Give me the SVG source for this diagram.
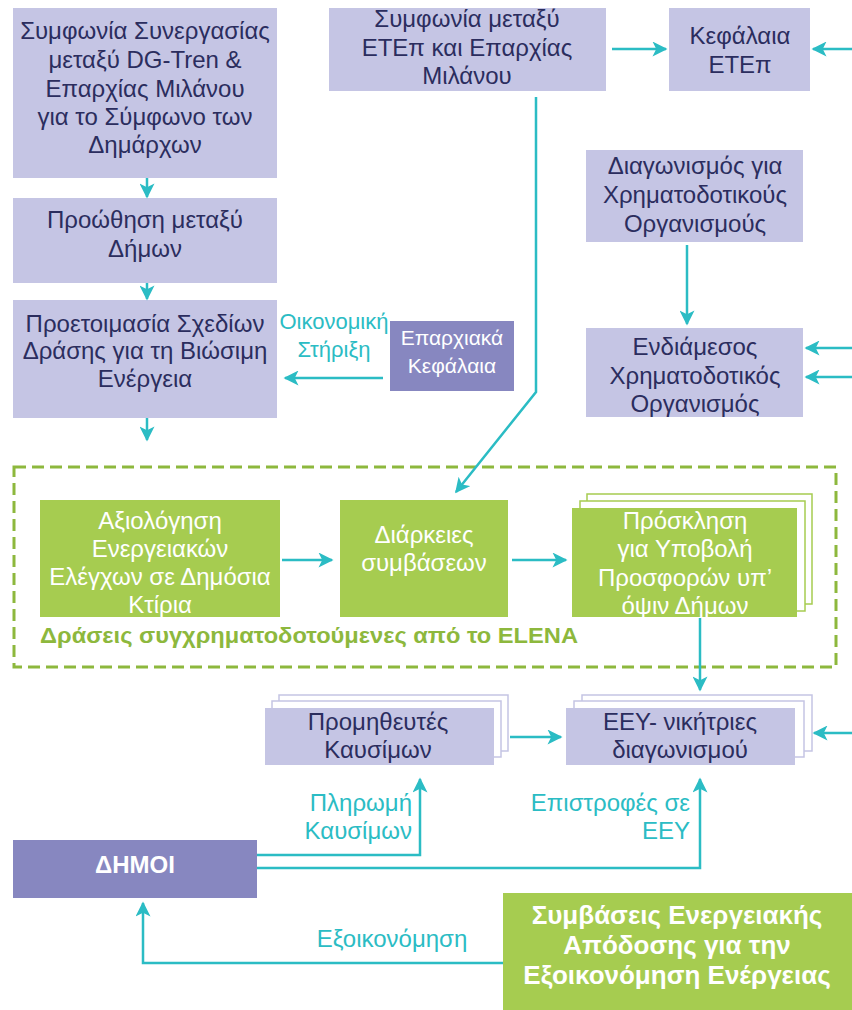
<svg xmlns="http://www.w3.org/2000/svg" width="852" height="1010" viewBox="0 0 852 1010">
<defs>
<marker id="ah" viewBox="0 0 10 10" refX="9" refY="5" markerWidth="6.5" markerHeight="6" markerUnits="strokeWidth" orient="auto">
<path d="M0,0 L10,5 L0,10 L2.5,5 Z" fill="#2bbcc4"/>
</marker>
<style>
.lav{fill:#c5c5e4}
.pur{fill:#8787c0}
.grn{fill:#a6cc50}
.stk{fill:#ffffff;stroke:#c5c5e4;stroke-width:1.5}
.stkg{fill:#ffffff;stroke:#a6cc50;stroke-width:1.5}
text{font-family:"Liberation Sans","Noto Sans",sans-serif;text-anchor:middle}
.dk{fill:#2b2d5e;font-size:24px}
.wt{fill:#ffffff;font-size:24px}
.wb{fill:#ffffff;font-size:26px;font-weight:bold}
.tl{fill:#2bbcc4;font-size:22px}
.tl2{fill:#2bbcc4;font-size:24px;text-anchor:end}
.lbl{fill:#8db83d;font-size:22px;font-weight:bold;text-anchor:start}
.ln{stroke:#2bbcc4;stroke-width:2.5;fill:none}
.ar{stroke:#2bbcc4;stroke-width:2.5;fill:none;marker-end:url(#ah)}
</style>
</defs>

<g id="group-elena">
<rect x="14" y="467" width="822" height="200" fill="none" stroke="#8db83d" stroke-width="3" stroke-dasharray="12,6"/>
<text class="lbl" x="40" y="643" textLength="538" lengthAdjust="spacingAndGlyphs">Δράσεις συγχρηματοδοτούμενες από το ELENA</text>
</g>

<g id="n1">
<rect class="lav" x="13" y="8" width="264" height="170"/>
<text class="dk" x="145" y="39">Συμφωνία Συνεργασίας</text>
<text class="dk" x="145" y="68">μεταξύ DG-Tren &amp;</text>
<text class="dk" x="145" y="97">Επαρχίας Μιλάνου</text>
<text class="dk" x="145" y="125">για το Σύμφωνο των</text>
<text class="dk" x="145" y="153">Δημάρχων</text>
</g>

<g id="n2">
<rect class="lav" x="13" y="198" width="264" height="85"/>
<text class="dk" x="145" y="228">Προώθηση μεταξύ</text>
<text class="dk" x="145" y="257">Δήμων</text>
</g>

<g id="n3">
<rect class="lav" x="13" y="300" width="264" height="118"/>
<text class="dk" x="145" y="332">Προετοιμασία Σχεδίων</text>
<text class="dk" x="145" y="359">Δράσης για τη Βιώσιμη</text>
<text class="dk" x="145" y="387">Ενέργεια</text>
</g>

<g id="n4">
<rect class="pur" x="390" y="321" width="124" height="70"/>
<text class="wt" x="452" y="345" style="font-size:21px">Επαρχιακά</text>
<text class="wt" x="452" y="373" style="font-size:21px">Κεφάλαια</text>
</g>

<g id="n5">
<rect class="lav" x="329" y="8" width="277" height="83"/>
<text class="dk" x="467" y="27">Συμφωνία μεταξύ</text>
<text class="dk" x="467" y="56">ΕΤΕπ και Επαρχίας</text>
<text class="dk" x="467" y="84">Μιλάνου</text>
</g>

<g id="n6">
<rect class="lav" x="669" y="8" width="141" height="83"/>
<text class="dk" x="740" y="44">Κεφάλαια</text>
<text class="dk" x="740" y="73">ΕΤΕπ</text>
</g>

<g id="n7">
<rect class="lav" x="586" y="150" width="217" height="92"/>
<text class="dk" x="695" y="174">Διαγωνισμός για</text>
<text class="dk" x="695" y="203">Χρηματοδοτικούς</text>
<text class="dk" x="695" y="232">Οργανισμούς</text>
</g>

<g id="n8">
<rect class="lav" x="586" y="328" width="217" height="89"/>
<text class="dk" x="695" y="355">Ενδιάμεσος</text>
<text class="dk" x="695" y="384">Χρηματοδοτικός</text>
<text class="dk" x="695" y="412">Οργανισμός</text>
</g>

<g id="n9">
<rect class="grn" x="40" y="500" width="240" height="117"/>
<text class="wt" x="160" y="529">Αξιολόγηση</text>
<text class="wt" x="160" y="557">Ενεργειακών</text>
<text class="wt" x="160" y="585">Ελέγχων σε Δημόσια</text>
<text class="wt" x="160" y="613">Κτίρια</text>
</g>

<g id="n10">
<rect class="grn" x="340" y="500" width="168" height="117"/>
<text class="wt" x="424" y="543">Διάρκειες</text>
<text class="wt" x="424" y="571">συμβάσεων</text>
</g>

<g id="n11">
<rect class="stkg" x="587" y="494" width="225" height="110"/>
<rect class="stkg" x="580" y="501" width="225" height="110"/>
<rect class="grn" x="572" y="508" width="225" height="109"/>
<text class="wt" x="685" y="529">Πρόσκληση</text>
<text class="wt" x="685" y="557">για Υποβολή</text>
<text class="wt" x="685" y="586">Προσφορών υπ’</text>
<text class="wt" x="685" y="614">όψιν Δήμων</text>
</g>

<g id="n12">
<rect class="stk" x="279" y="695" width="229" height="56"/>
<rect class="stk" x="272" y="701" width="229" height="56"/>
<rect class="lav" x="265" y="708" width="229" height="57"/>
<text class="dk" x="378" y="730">Προμηθευτές</text>
<text class="dk" x="378" y="758">Καυσίμων</text>
</g>

<g id="n13">
<rect class="stk" x="582" y="695" width="230" height="56"/>
<rect class="stk" x="574" y="701" width="230" height="56"/>
<rect class="lav" x="566" y="708" width="229" height="57"/>
<text class="dk" x="680" y="730">ΕΕΥ- νικήτριες</text>
<text class="dk" x="680" y="758">διαγωνισμού</text>
</g>

<g id="n14">
<rect class="pur" x="13" y="840" width="244" height="58"/>
<text class="wb" x="135" y="873" style="font-size:24px">ΔΗΜΟΙ</text>
</g>

<g id="n15">
<rect class="grn" x="503" y="893" width="349" height="117"/>
<text class="wb" x="677" y="924">Συμβάσεις Ενεργειακής</text>
<text class="wb" x="677" y="954">Απόδοσης για την</text>
<text class="wb" x="677" y="984">Εξοικονόμηση Ενέργειας</text>
</g>

<g id="connectors">
<path class="ar" d="M147,178 V197"/>
<path class="ar" d="M147,283 V299"/>
<path class="ar" d="M147,418 V440"/>
<path class="ar" d="M383,378 H285"/>
<path class="ar" d="M536,97 V392 L456,492"/>
<path class="ar" d="M612,49 H666"/>
<path class="ar" d="M852,49 H813"/>
<path class="ar" d="M687,245 V324"/>
<path class="ar" d="M852,348 H806"/>
<path class="ar" d="M852,377 H806"/>
<path class="ar" d="M282,560 H332"/>
<path class="ar" d="M512,560 H566"/>
<path class="ar" d="M700,618 V690"/>
<path class="ar" d="M510,737 H561"/>
<path class="ar" d="M852,733 H814"/>
<path class="ar" d="M257,855 H420 V779"/>
<path class="ar" d="M257,868 H700 V779"/>
<path class="ar" d="M503,963 H143 V903"/>
<text class="tl" x="334" y="329">Οικονομική</text>
<text class="tl" x="334" y="357">Στήριξη</text>
<text class="tl2" x="412" y="811">Πληρωμή</text>
<text class="tl2" x="412" y="839">Καυσίμων</text>
<text class="tl2" x="690" y="811">Επιστροφές σε</text>
<text class="tl2" x="690" y="839">ΕΕΥ</text>
<text class="tl" x="392" y="947" style="font-size:24px">Εξοικονόμηση</text>
</g>
</svg>
